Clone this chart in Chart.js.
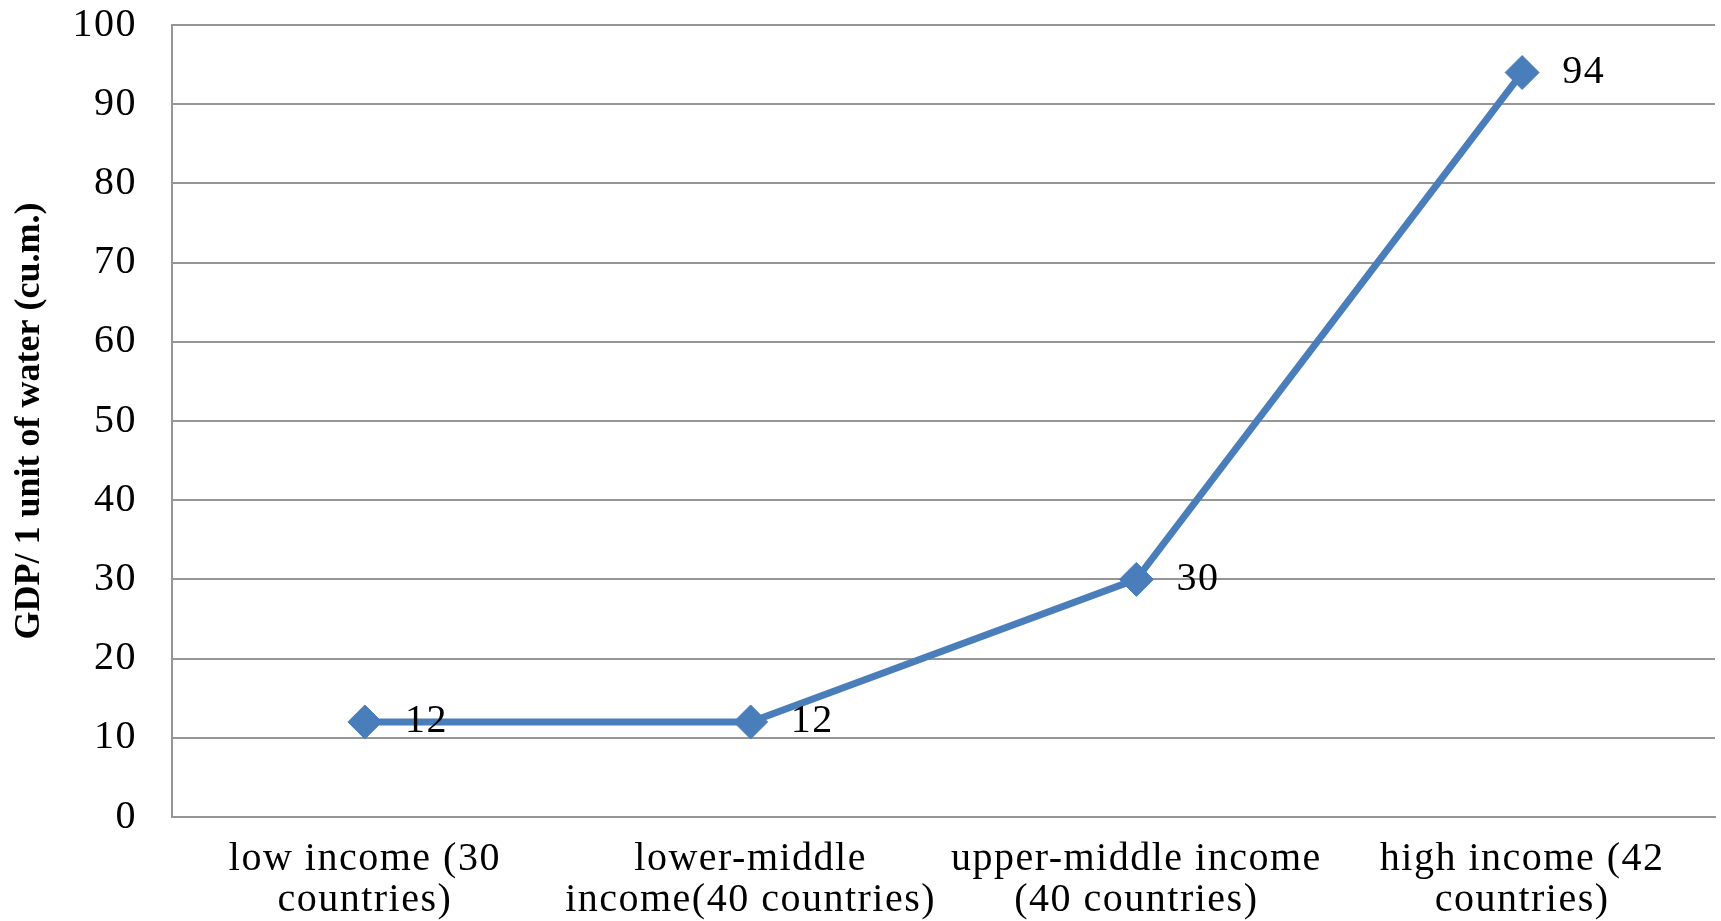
<!DOCTYPE html>
<html>
<head>
<meta charset="utf-8">
<script src="https://cdn.jsdelivr.net/npm/chart.js@4.4.1/dist/chart.umd.min.js"></script>
<style>
  html, body { margin: 0; padding: 0; background: #ffffff; }
  canvas { display: block; }
</style>
</head>
<body>
<canvas id="chart" width="1721" height="921"></canvas>
<script>
// Income groups along the horizontal axis (two-line labels)
const incomeGroups = [
  ['low income (30', 'countries)'],
  ['lower-middle', 'income(40 countries)'],
  ['upper-middle income', '(40 countries)'],
  ['high income (42', 'countries)']
];

// GDP produced per cubic metre of water used
const gdpPerWater = [12, 12, 30, 94];

// Value axis range and tick step
const yMin = 0;
const yMax = 100;
const yStep = 10;

const axisTitle = 'GDP/ 1 unit of water (cu.m.)';

const SERIF = '"Liberation Serif", "Times New Roman", serif';
const LINE_BLUE = '#4a7ebb';
const GRID_GREY = '#969696';
const TEXT_SPACING = '1.5px';

// Axis titles are drawn with normal tracking, tick and value text a bit wider
const baseDrawTitle = Chart.Scale.prototype.drawTitle;
Chart.Scale.prototype.drawTitle = function () {
  const c = this.ctx;
  const prev = c.letterSpacing;
  c.letterSpacing = '0px';
  baseDrawTitle.call(this);
  c.letterSpacing = prev;
};

const wideText = {
  id: 'wideText',
  beforeUpdate(chart) { chart.ctx.letterSpacing = TEXT_SPACING; },
  beforeDraw(chart) { chart.ctx.letterSpacing = TEXT_SPACING; }
};

// Writes each point's value just to the right of its marker
const pointValues = {
  id: 'pointValues',
  afterDatasetsDraw(chart) {
    const ctx = chart.ctx;
    const meta = chart.getDatasetMeta(0);
    const values = chart.data.datasets[0].data;
    ctx.save();
    ctx.letterSpacing = TEXT_SPACING;
    ctx.font = '40px ' + SERIF;
    ctx.fillStyle = '#000000';
    ctx.textAlign = 'left';
    ctx.textBaseline = 'middle';
    meta.data.forEach((pt, i) => {
      ctx.fillText(String(values[i]), pt.x + 40, pt.y);
    });
    ctx.restore();
  }
};

new Chart(document.getElementById('chart'), {
  type: 'line',
  data: {
    labels: incomeGroups,
    datasets: [{
      data: gdpPerWater,
      borderColor: LINE_BLUE,
      backgroundColor: LINE_BLUE,
      borderWidth: 7,
      pointStyle: 'rectRot',
      pointRadius: 17,
      pointBorderWidth: 1,
      pointBackgroundColor: LINE_BLUE,
      pointBorderColor: LINE_BLUE,
      tension: 0,
      fill: false,
      clip: false
    }]
  },
  options: {
    responsive: false,
    animation: false,
    devicePixelRatio: 1,
    layout: { autoPadding: false, padding: { top: 25, right: 6, left: 0, bottom: 0 } },
    plugins: {
      legend: { display: false },
      tooltip: { enabled: false }
    },
    scales: {
      x: {
        type: 'category',
        offset: true,
        grid: { display: false, drawTicks: false },
        border: { display: true, color: GRID_GREY, width: 2 },
        ticks: {
          color: '#000000',
          font: { family: SERIF, size: 40, lineHeight: 1.03 },
          padding: 22,
          maxRotation: 0,
          autoSkip: false
        },
        afterFit(scale) {
          scale.height = 104;
          scale.paddingLeft = 0;
          scale.paddingRight = 0;
        }
      },
      y: {
        min: yMin,
        max: yMax,
        grid: { color: GRID_GREY, lineWidth: 2, drawTicks: false },
        border: { display: true, color: GRID_GREY, width: 2 },
        ticks: {
          stepSize: yStep,
          color: '#000000',
          font: { family: SERIF, size: 40 },
          padding: 35
        },
        title: {
          display: true,
          text: axisTitle,
          color: '#000000',
          font: { family: SERIF, size: 36, weight: 'bold' },
          padding: { top: 8, bottom: 0 }
        },
        afterFit(scale) {
          scale.width = 172;
          scale.paddingTop = 0;
          scale.paddingBottom = 0;
        }
      }
    }
  },
  plugins: [wideText, pointValues]
});
</script>
</body>
</html>
